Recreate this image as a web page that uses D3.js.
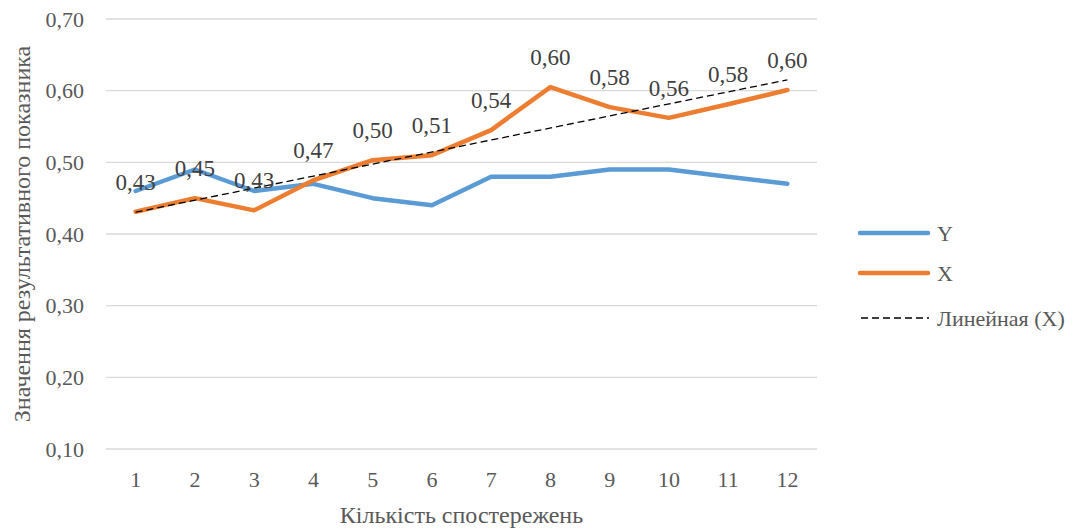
<!DOCTYPE html>
<html><head><meta charset="utf-8">
<script src="https://cdn.jsdelivr.net/npm/d3@7"></script>
</head><body style="margin:0;background:#fff">
<svg id="c" width="1084" height="529" font-family="serif"></svg>
<script>
const categories = ["1","2","3","4","5","6","7","8","9","10","11","12"];
const seriesY = [0.46,0.49,0.46,0.47,0.45,0.44,0.48,0.48,0.49,0.49,0.48,0.47];
const seriesX = [0.431,0.450,0.433,0.475,0.503,0.510,0.545,0.605,0.577,0.562,0.581,0.601];
const labelsX = ["0,43","0,45","0,43","0,47","0,50","0,51","0,54","0,60","0,58","0,56","0,58","0,60"];
const yTicks = [0.1,0.2,0.3,0.4,0.5,0.6,0.7];
const legendNames = ["Y","X","Линейная (X)"];

const FONT = "serif";
const svg = d3.select("#c");
const L=106,R=817,T=19,B=449;
const x = d3.scaleBand().domain(categories).range([L,R]);
const xc = c => x(c)+x.bandwidth()/2;
const y = d3.scaleLinear().domain([0.1,0.7]).range([B,T]);
const fmt = v => d3.format(".2f")(v).replace(".",",");

// grid
svg.append("g").selectAll("line").data(yTicks).join("line")
  .attr("x1",L).attr("x2",R).attr("y1",d=>y(d)).attr("y2",d=>y(d))
  .attr("stroke","#d9d9d9").attr("stroke-width",1.3);

// y tick labels
svg.append("g").selectAll("text").data(yTicks).join("text")
  .attr("x",L-22).attr("y",d=>y(d)).attr("dy","0.35em").attr("text-anchor","end")
  .attr("font-family",FONT).attr("font-size",22).attr("fill","#595959").text(fmt);

// x tick labels
svg.append("g").selectAll("text").data(categories).join("text")
  .attr("x",d=>xc(d)).attr("y",B+30).attr("dy","0.35em").attr("text-anchor","middle")
  .attr("font-family",FONT).attr("font-size",22).attr("fill","#595959").text(d=>d);

// titles
svg.append("text").attr("x",(L+R)/2).attr("y",515).attr("dy","0.35em").attr("text-anchor","middle")
  .attr("font-family",FONT).attr("font-size",24).attr("fill","#595959").text("Кількість спостережень");
svg.append("text").attr("transform",`translate(22,${(T+B)/2}) rotate(-90)`).attr("dy","0.35em").attr("text-anchor","middle")
  .attr("font-family",FONT).attr("font-size",24).attr("fill","#595959").text("Значення результативного показника");

const line = d3.line().x((d,i)=>xc(categories[i])).y(d=>y(d));

svg.append("path").datum(seriesY).attr("d",line).attr("fill","none")
  .attr("stroke","#5b9bd5").attr("stroke-width",4.5).attr("stroke-linejoin","round").attr("stroke-linecap","round");
svg.append("path").datum(seriesX).attr("d",line).attr("fill","none")
  .attr("stroke","#ed7d31").attr("stroke-width",4.5).attr("stroke-linejoin","round").attr("stroke-linecap","round");

// linear trend of X (least squares)
const n = seriesX.length;
const idx = d3.range(1,n+1);
const mx = d3.mean(idx), my = d3.mean(seriesX);
const slope = d3.sum(idx.map((v,i)=>(v-mx)*(seriesX[i]-my)))/d3.sum(idx.map(v=>(v-mx)**2));
const icpt = my - slope*mx;
const trend = idx.map(v=>icpt+slope*v);
svg.append("path").datum([trend[0],trend[n-1]])
  .attr("d",d3.line().x((d,i)=>xc(categories[i===0?0:n-1])).y(d=>y(d)))
  .attr("fill","none").attr("stroke","#000").attr("stroke-width",1.3).attr("stroke-dasharray","7,4");

// data labels
svg.append("g").selectAll("text").data(seriesX).join("text")
  .attr("x",(d,i)=>xc(categories[i])).attr("y",d=>y(d)-30).attr("dy","0.35em")
  .attr("text-anchor","middle").attr("font-family",FONT).attr("font-size",23).attr("fill","#404040").text((d,i)=>labelsX[i]);

// legend
const leg = svg.append("g");
const ly = [233,273,318];
const styles = [{c:"#5b9bd5",w:4.5,d:null},{c:"#ed7d31",w:4.5,d:null},{c:"#000",w:1.3,d:"7,4"}];
legendNames.forEach((nm,i)=>{
  const l = leg.append("line").attr("x1",860).attr("x2",928).attr("y1",ly[i]).attr("y2",ly[i])
    .attr("stroke",styles[i].c).attr("stroke-width",styles[i].w).attr("stroke-linecap",styles[i].d?"butt":"round");
  if(styles[i].d) l.attr("stroke-dasharray",styles[i].d).attr("x1",861).attr("x2",929);
  leg.append("text").attr("x",937).attr("y",ly[i]).attr("dy","0.35em")
    .attr("font-family",FONT).attr("font-size",22).attr("fill","#595959").text(nm);
});
</script>
</body></html>
